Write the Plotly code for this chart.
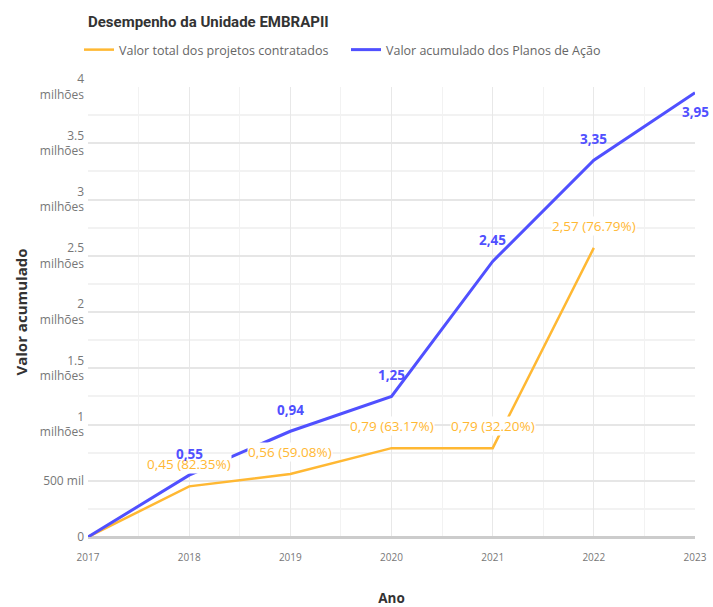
import plotly.graph_objects as go

years = [2017, 2018, 2019, 2020, 2021, 2022, 2023]
planos = [0, 0.55e6, 0.94e6, 1.25e6, 2.45e6, 3.35e6, 3.95e6]
planos_labels = ["", "0,55", "0,94", "1,25", "2,45", "3,35", "3,95"]

proj_years = [2017, 2018, 2019, 2020, 2021, 2022]
projetos = [0, 0.45e6, 0.56e6, 0.79e6, 0.79e6, 2.57e6]
projetos_labels = ["", "0,45 (82.35%)", "0,56 (59.08%)", "0,79 (63.17%)", "0,79 (32.20%)", "2,57 (76.79%)"]

ytick_vals = [0, 0.5e6, 1e6, 1.5e6, 2e6, 2.5e6, 3e6, 3.5e6, 4e6]
ytick_text = ["0", "500 mil", "1<br>milhões", "1.5<br>milhões", "2<br>milhões", "2.5<br>milhões",
              "3<br>milhões", "3.5<br>milhões", "4<br>milhões"]

ORANGE = "#ffb833"
BLUE = "#5050ff"
FONT = "Open Sans"

fig = go.Figure()
fig.add_trace(go.Scatter(x=proj_years, y=projetos, mode="lines", name="Valor total dos projetos contratados",
                         line=dict(color=ORANGE, width=2.5)))
fig.add_trace(go.Scatter(x=years, y=planos, mode="lines", name="Valor acumulado dos Planos de Ação",
                         line=dict(color=BLUE, width=3)))

annotations = []
for x, y, t in zip(proj_years, projetos, projetos_labels):
    if t:
        annotations.append(dict(x=x, y=y, text=t, showarrow=False, yshift=22, bgcolor="white",
                                borderpad=0, font=dict(color=ORANGE, size=13.5, family=FONT)))
for x, y, t in zip(years, planos, planos_labels):
    if t:
        shift = -19 if x == 2023 else 21
        annotations.append(dict(x=x, y=y, text="<b>" + t + "</b>", showarrow=False, yshift=shift,
                                font=dict(color=BLUE, size=13.5, family=FONT)))

fig.update_layout(
    width=713, height=607,
    margin=dict(l=88, r=18, t=87, b=70),
    paper_bgcolor="white", plot_bgcolor="white",
    font=dict(family=FONT, color="#666"),
    title=dict(text="<b>Desempenho da Unidade EMBRAPII</b>", x=88/713, xanchor="left", y=1-22/607, yanchor="middle",
               font=dict(size=15, color="#333", family="Roboto")),
    legend=dict(orientation="h", x=-9/607, xanchor="left", y=1 + 37/450, yanchor="middle",
                font=dict(size=12.5, color="#666"), itemwidth=30, entrywidth=222, tracegroupgap=0),
    showlegend=True,
    annotations=annotations,
    xaxis=dict(range=[2017, 2023], tickvals=years, ticktext=[str(y) for y in years],
               showgrid=True, gridcolor="#e8e8e8", gridwidth=1,
               minor=dict(dtick=0.5, showgrid=True, gridcolor="#f2f2f2"),
               zeroline=False, showline=False, ticks="", ticklabelstandoff=13, automargin=False,
               tickfont=dict(size=10, color="#777"),
               title=dict(text="<b>Ano</b>", font=dict(size=13.5, color="#333"), standoff=31)),
    yaxis=dict(range=[0, 4e6], tickvals=ytick_vals, ticktext=ytick_text,
               showgrid=True, gridcolor="#e6e6e6", gridwidth=1.5,
               minor=dict(tickvals=[0.25e6, 0.75e6, 1.25e6, 1.75e6, 2.25e6, 2.75e6, 3.25e6, 3.75e6],
                          showgrid=True, gridcolor="#f2f2f2"),
               zeroline=True, zerolinecolor="#cccccc", zerolinewidth=3,
               showline=False, ticks="", ticklabelstandoff=3, automargin=False,
               tickfont=dict(size=12, color="#777"),
               title=dict(text="<b>Valor acumulado</b>", font=dict(size=15, color="#333"), standoff=8)),
)

fig.write_html("out.html", config={"displayModeBar": False},
               post_script="document.body.style.margin='0';document.body.style.overflow='hidden';")
